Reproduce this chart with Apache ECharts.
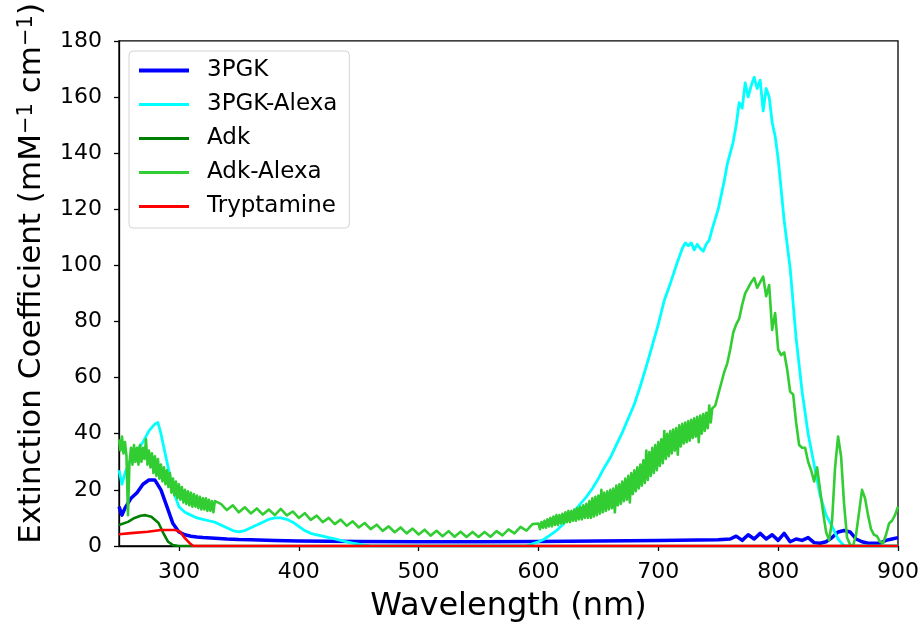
<!DOCTYPE html>
<html>
<head>
<meta charset="utf-8">
<script src="https://cdn.jsdelivr.net/npm/echarts@6/dist/echarts.min.js"></script>
<style>html,body{margin:0;padding:0;background:#fff}#c{width:924px;height:628px}</style>
</head>
<body>
<div id="c"></div>
<script>
// ---- Data ----
const seriesNames = ["3PGK", "3PGK-Alexa", "Adk", "Adk-Alexa", "Tryptamine"];
const xTicks = [300, 400, 500, 600, 700, 800, 900];
const yTicks = [0, 20, 40, 60, 80, 100, 120, 140, 160, 180];

const pgkWl = [250,252.5,255,260,265,270,275,280,285,290,295,300,305,310,315,320,330,340,350,360,380,400,450,500,550,600,650,700,750,760,765,770,775,780,785,790,795,800,805,810,815,820,825,830,835,840,845,850,855,860,865,870,875,880,885,890,895,900];
const pgkVal = [14,11,13.5,17,19,22,23.5,23.5,20,14,8,5,4,3.5,3.2,3,2.8,2.5,2.3,2.2,2,1.8,1.6,1.5,1.5,1.6,1.8,2,2.2,2.5,3.5,2,4,2.5,4.5,2.5,4,2,4.5,1.5,2.5,2,3,1.2,1,1.5,3,5,5.5,5,2.5,1.5,1,1,1,2,2.5,3];

const pgkAlexaWl = [250,252.5,255,260,265,270,275,280,282.5,285,290,295,300,305,310,315,320,325,330,335,340,345,350,355,360,365,370,375,380,385,390,395,400,405,410,415,420,425,430,435,440,445,450,455,460,500,550,590,595,600,605,610,615,620,625,630,635,640,645,650,655,660,665,670,675,680,685,690,695,700,705,710,715,720,722.5,725,727.5,730,732.5,735,737.5,740,742.5,745,750,755,757.5,760,762.5,765,767.5,770,772.5,775,777.5,780,782.5,785,787.5,790,792.5,795,797.5,800,805,810,815,820,825,830,835,840,845,850,855,870,900];
const pgkAlexaVal = [27,22,26,31,34,37,41,43.5,44,40,30,20,14,12,11,10,9.5,9,8.5,7.5,6.5,5.5,5,5.5,6.5,7.5,8.5,9.5,10,10,9.5,8.5,7,5.5,4.5,4,3.5,3,2.5,2,1.5,1,0.7,0.3,0,0,0,0,0.8,1.5,2.5,4,5.5,7.5,10,12.5,15,17.5,20.5,24,28,31.5,36,40.5,45.5,50.5,57,64,71.5,79,87.5,93.5,100,106,108,107,108,105.5,107.5,106,105,107.5,109,113,120,130,136,140,144,150,158,156,165,160,164,167,163,166,155,163,160,151,146,138,116,99,74,55,40,29,18,11,7,2.5,0,0,0];

const adkWl = [250,257.5,263,268,272,277,283,287,291,295,300,900];
const adkVal = [7.5,8.6,10,10.8,11,10.4,8.2,4.6,1.5,0.3,0,0];

// Adk-Alexa is sampled in four segments: [start wavelength, step] + values
const adkAlexaSegA = [250, 1.25];
const adkAlexaValA = [38,34,39,33,37,32,11,30,35,29,36,30,35,29,36,30,35,31,38,29,34,28,33,26,32,25,31,24,29,23,28,22,27,21,26,19,24,18,23,17,22,16.5,21,15.5,20,15,19.5,14.5,19,14,18.5,14,18,13.5,17.5,13,17,13,17,12.5,16.5,12.5,16,12,16];
const adkAlexaSegB = [335, 5];
const adkAlexaValB = [15,12.8,14.5,12,13.8,11.6,13.4,11.2,13,11,13.2,10.9,12.3,10,11.7,9.3,10.8,8.5,10,7.8,9.4,7.2,8.8,6.6,8.2,6,7.6,5.4,7,4.9,6.6,4.5,6.2,4.1,5.8,3.7,5.4,3.5,5.3,3.3,5.1,3.2,5,3.2,5,3.3,5.3,3.8,5.9,4.5,6.8,5.5,7.8];
const adkAlexaSegC = [600, 1.25];
const adkAlexaValC = [8,6,8.5,6.5,9,6.5,9.5,7,10,7,10.5,7.5,11,7.5,11,8,11.5,8,12,8.5,12.5,8.5,12.5,9,13,9,13.5,9.5,14,9.5,14.5,10,15,10,16,10,17,10.5,17.5,11,18,11.5,20,12,19,12.5,19.5,13,20,13.5,20.5,12,21.5,14.5,22,15,23,16,24,16.5,25,15.5,26,18.5,27,19.5,28,20.5,29,21.5,30.5,22.5,34,23.5,33.5,25,35,26,36,27,37,28.5,38,29.5,41,31,40,32,41,33,41.5,34,42,32.5,43,35.5,43.5,36.5,44,37,44.5,37.5,45,38.5,45.5,39,46,37,46.5,40,47,41,47.5,42,50,44,49];
const adkAlexaSegD = [747.5, 2.5];
const adkAlexaValD = [50,54,58,62,65,70,76,79,81,86,90,92,94,95.5,92,94,96,89,93,77,83,70,68,69,63,55,54,44,36,35,35,30,27,23,28,20,12,5,2,9,28,39,32,15,3,0.5,0,4,12,20,17,11,6,4,3.5,1.5,1,4,8,9,11,14];

const trypWl = [250,260,274,285,297,301,305,309,312,900];
const trypVal = [4.2,4.6,5.1,5.7,5.7,5.1,2.8,1,0,0];

const colors = ["#0000ff", "#00ffff", "#008000", "#32cd32", "#ff0000"];
const widths = [3.5, 2.8, 2.6, 2.6, 2.6];
const legendWidths = [4, 2.8, 2.8, 2.8, 2.8];

function pairs(wl, v) { return wl.map((w, i) => [w, v[i]]); }
function segPairs(seg, v) { return v.map((y, i) => [seg[0] + i * seg[1], y]); }
const adkAlexaData = [].concat(
  segPairs(adkAlexaSegA, adkAlexaValA), segPairs(adkAlexaSegB, adkAlexaValB),
  segPairs(adkAlexaSegC, adkAlexaValC), segPairs(adkAlexaSegD, adkAlexaValD));
const allData = [pairs(pgkWl, pgkVal), pairs(pgkAlexaWl, pgkAlexaVal), pairs(adkWl, adkVal), adkAlexaData, pairs(trypWl, trypVal)];

const chart = echarts.init(document.getElementById('c'), null, {renderer: 'canvas'});
const FONT = 'DejaVu Sans';
chart.setOption({
  animation: false,
  backgroundColor: '#fff',
  grid: {left: 119, right: 26, top: 40, bottom: 82, show: true, borderColor: '#000', borderWidth: 1.3, backgroundColor: 'transparent'},
  legend: {
    data: seriesNames.map((n, i) => ({name: n, lineStyle: {width: legendWidths[i], color: colors[i]}})),
    orient: 'vertical', left: 129, top: 51,
    itemWidth: 50, itemHeight: 14, itemGap: 11,
    padding: [8, 12, 10, 8],
    itemStyle: {opacity: 0},
    borderColor: '#d4d4d4', borderWidth: 1, borderRadius: 4, backgroundColor: '#fff',
    textStyle: {fontFamily: FONT, fontSize: 23, color: '#000', padding: [0, 0, 0, 13]}
  },
  xAxis: {
    type: 'value', min: 250, max: 900, interval: 50,
    name: 'Wavelength (nm)', nameLocation: 'middle', nameGap: 45,
    nameTextStyle: {fontFamily: FONT, fontSize: 32, color: '#000'},
    axisLine: {show: true, onZero: false, lineStyle: {color: '#000', width: 1.3}},
    axisTick: {show: true, length: 5, lineStyle: {color: '#000', width: 1.3}, customValues: xTicks},
    axisLabel: {fontFamily: FONT, fontSize: 22, color: '#000', margin: 15, customValues: xTicks},
    splitLine: {show: false}
  },
  yAxis: {
    type: 'value', min: 0, max: 180, interval: 20,
    name: 'Extinction Coefficient (mM{s|\u22121} cm{s|\u22121})', nameLocation: 'middle', nameGap: 72,
    nameTextStyle: {fontFamily: FONT, fontSize: 31, color: '#000', padding: [0, 0, 0, 40],
      rich: {s: {fontFamily: FONT, fontSize: 21, color: '#000', verticalAlign: 'top'}}},
    axisLine: {show: true, onZero: false, lineStyle: {color: '#000', width: 1.3}},
    axisTick: {show: true, length: 5, lineStyle: {color: '#000', width: 1.3}},
    axisLabel: {fontFamily: FONT, fontSize: 22, color: '#000', margin: 17},
    splitLine: {show: false}
  },
  series: seriesNames.map((n, i) => ({
    name: n, type: 'line', data: allData[i],
    symbol: 'none', showSymbol: false, clip: true,
    color: colors[i],
    lineStyle: {color: colors[i], width: widths[i], join: 'round'},
    z: 2 + i
  }))
});
</script>
</body>
</html>
